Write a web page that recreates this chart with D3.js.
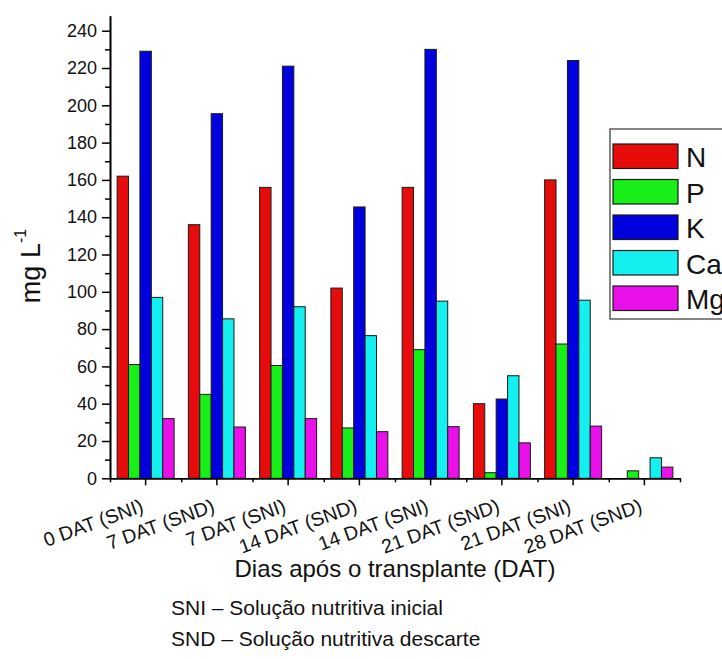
<!DOCTYPE html>
<html>
<head>
<meta charset="utf-8">
<script src="https://cdn.jsdelivr.net/npm/d3@7/dist/d3.min.js"></script>
<style>
  html, body { margin: 0; padding: 0; background: #fff; }
  svg { display: block; }
  svg text { font-family: "Liberation Sans", Arimo, Arial, sans-serif; }
</style>
</head>
<body>
<svg id="chart" width="722" height="659"></svg>
<script>
// Sampling days (x categories)
const categories = ["0 DAT (SNI)", "7 DAT (SND)", "7 DAT (SNI)", "14 DAT (SND)",
                    "14 DAT (SNI)", "21 DAT (SND)", "21 DAT (SNI)", "28 DAT (SND)"];
// Nutrient concentrations, mg L-1
const seriesNames = ["N", "P", "K", "Ca", "Mg"];
const N  = [162, 136, 156, 102, 156, 40, 160, 0];
const P  = [61, 45, 60.5, 27, 69, 3, 72, 4];
const K  = [229, 195.5, 221, 145.5, 230, 42.5, 224, 0];
const Ca = [97, 85.5, 92, 76.5, 95, 55, 95.5, 11];
const Mg = [32, 27.5, 32, 25, 27.7, 19, 28, 6];
const yTicks = [0, 20, 40, 60, 80, 100, 120, 140, 160, 180, 200, 220, 240];
const colors = ["#e60c0c", "#18ee18", "#0000df", "#14f0f0", "#ea10ea"];

const values = [N, P, K, Ca, Mg];
const svg = d3.select("#chart");

const plotLeft = 110, plotRight = 680, plotTop = 15.8, plotBottom = 478.3;
const x = d3.scaleBand().domain(categories).range([plotLeft, plotRight]).padding(0);
const y = d3.scaleLinear().domain([0, 248]).range([plotBottom, plotTop]);
const inner = d3.scaleBand().domain(seriesNames)
  .range([x.bandwidth() * 0.1, x.bandwidth() * 0.9]).padding(0);

// Bars
const groups = svg.append("g").selectAll("g")
  .data(categories).join("g")
  .attr("transform", d => `translate(${x(d)},0)`);
groups.selectAll("rect")
  .data((d, i) => seriesNames.map((s, k) => ({ s, k, v: values[k][i] })).filter(e => e.v > 0))
  .join("rect")
  .attr("x", d => inner(d.s))
  .attr("y", d => y(d.v))
  .attr("width", inner.bandwidth())
  .attr("height", d => y(0) - y(d.v))
  .attr("fill", d => colors[d.k])
  .attr("stroke", "#1a1a1a")
  .attr("stroke-width", 1);

// Y axis: major ticks with labels, minor ticks between
const yAxis = svg.append("g").attr("transform", `translate(${plotLeft},0)`);
yAxis.call(d3.axisLeft(y).tickValues(yTicks).tickSize(8).tickPadding(5).tickSizeOuter(0));
yAxis.append("g").call(d3.axisLeft(y).tickValues(d3.range(10, 250, 20)).tickSize(5).tickFormat("").tickSizeOuter(0));
yAxis.attr("font-family", null);
yAxis.selectAll("g").attr("font-family", null);
yAxis.selectAll("text").attr("font-size", 18).attr("fill", "#111");
yAxis.selectAll("path.domain").attr("stroke", "#000").attr("stroke-width", 1.6);
yAxis.selectAll("line").attr("stroke", "#000").attr("stroke-width", 1.5);

// X axis: major ticks at group centres, minor ticks at group boundaries
const xAxis = svg.append("g").attr("transform", `translate(0,${plotBottom})`);
xAxis.call(d3.axisBottom(x).tickSize(7).tickFormat("").tickSizeOuter(0));
const xb = d3.scaleLinear().domain([0, categories.length]).range([plotLeft, plotRight]);
xAxis.append("g").call(d3.axisBottom(xb).tickValues(d3.range(0, categories.length + 1)).tickSize(4).tickFormat("").tickSizeOuter(0));
xAxis.selectAll("path.domain").attr("stroke", "#000").attr("stroke-width", 1.6);
xAxis.selectAll("line").attr("stroke", "#000").attr("stroke-width", 1.5);

// Slanted category labels
svg.append("g").selectAll("text")
  .data(categories).join("text")
  .attr("transform", d => `translate(${x(d) + x.bandwidth() / 2 - 1},${plotBottom + 33}) rotate(-20)`)
  .attr("text-anchor", "end")
  .attr("font-size", 19.5)
  .attr("fill", "#111")
  .text(d => d);

// Axis titles
svg.append("text")
  .attr("x", (plotLeft + plotRight) / 2).attr("y", 577)
  .attr("text-anchor", "middle").attr("font-size", 24).attr("fill", "#111")
  .text("Dias após o transplante (DAT)");

const yt = svg.append("text")
  .attr("transform", "translate(40,266) rotate(-90)")
  .attr("text-anchor", "middle").attr("font-size", 27).attr("fill", "#111");
yt.append("tspan").text("mg L");
yt.append("tspan").attr("font-size", 16).attr("dy", -14).text("-1");

// Legend
const legend = svg.append("g").attr("transform", "translate(610,129)");
legend.append("rect").attr("x", 0).attr("y", 0).attr("width", 200).attr("height", 190)
  .attr("fill", "#fff").attr("stroke", "#333").attr("stroke-width", 1.2);
const li = legend.selectAll("g.item").data(seriesNames).join("g")
  .attr("class", "item")
  .attr("transform", (d, i) => `translate(3,${15 + i * 35.5})`);
li.append("rect").attr("width", 65).attr("height", 24.5)
  .attr("fill", (d, i) => colors[i]).attr("stroke", "#1a1a1a").attr("stroke-width", 1.2);
li.append("text").attr("x", 73).attr("y", 23).attr("font-size", 28).attr("fill", "#111").text(d => d);

// Footnotes
const notes = ["SNI – Solução nutritiva inicial", "SND – Solução nutritiva descarte"];
svg.append("g").selectAll("text").data(notes).join("text")
  .attr("x", 171).attr("y", (d, i) => 615 + i * 31)
  .attr("font-size", 21).attr("fill", "#111").text(d => d);
</script>
</body>
</html>
